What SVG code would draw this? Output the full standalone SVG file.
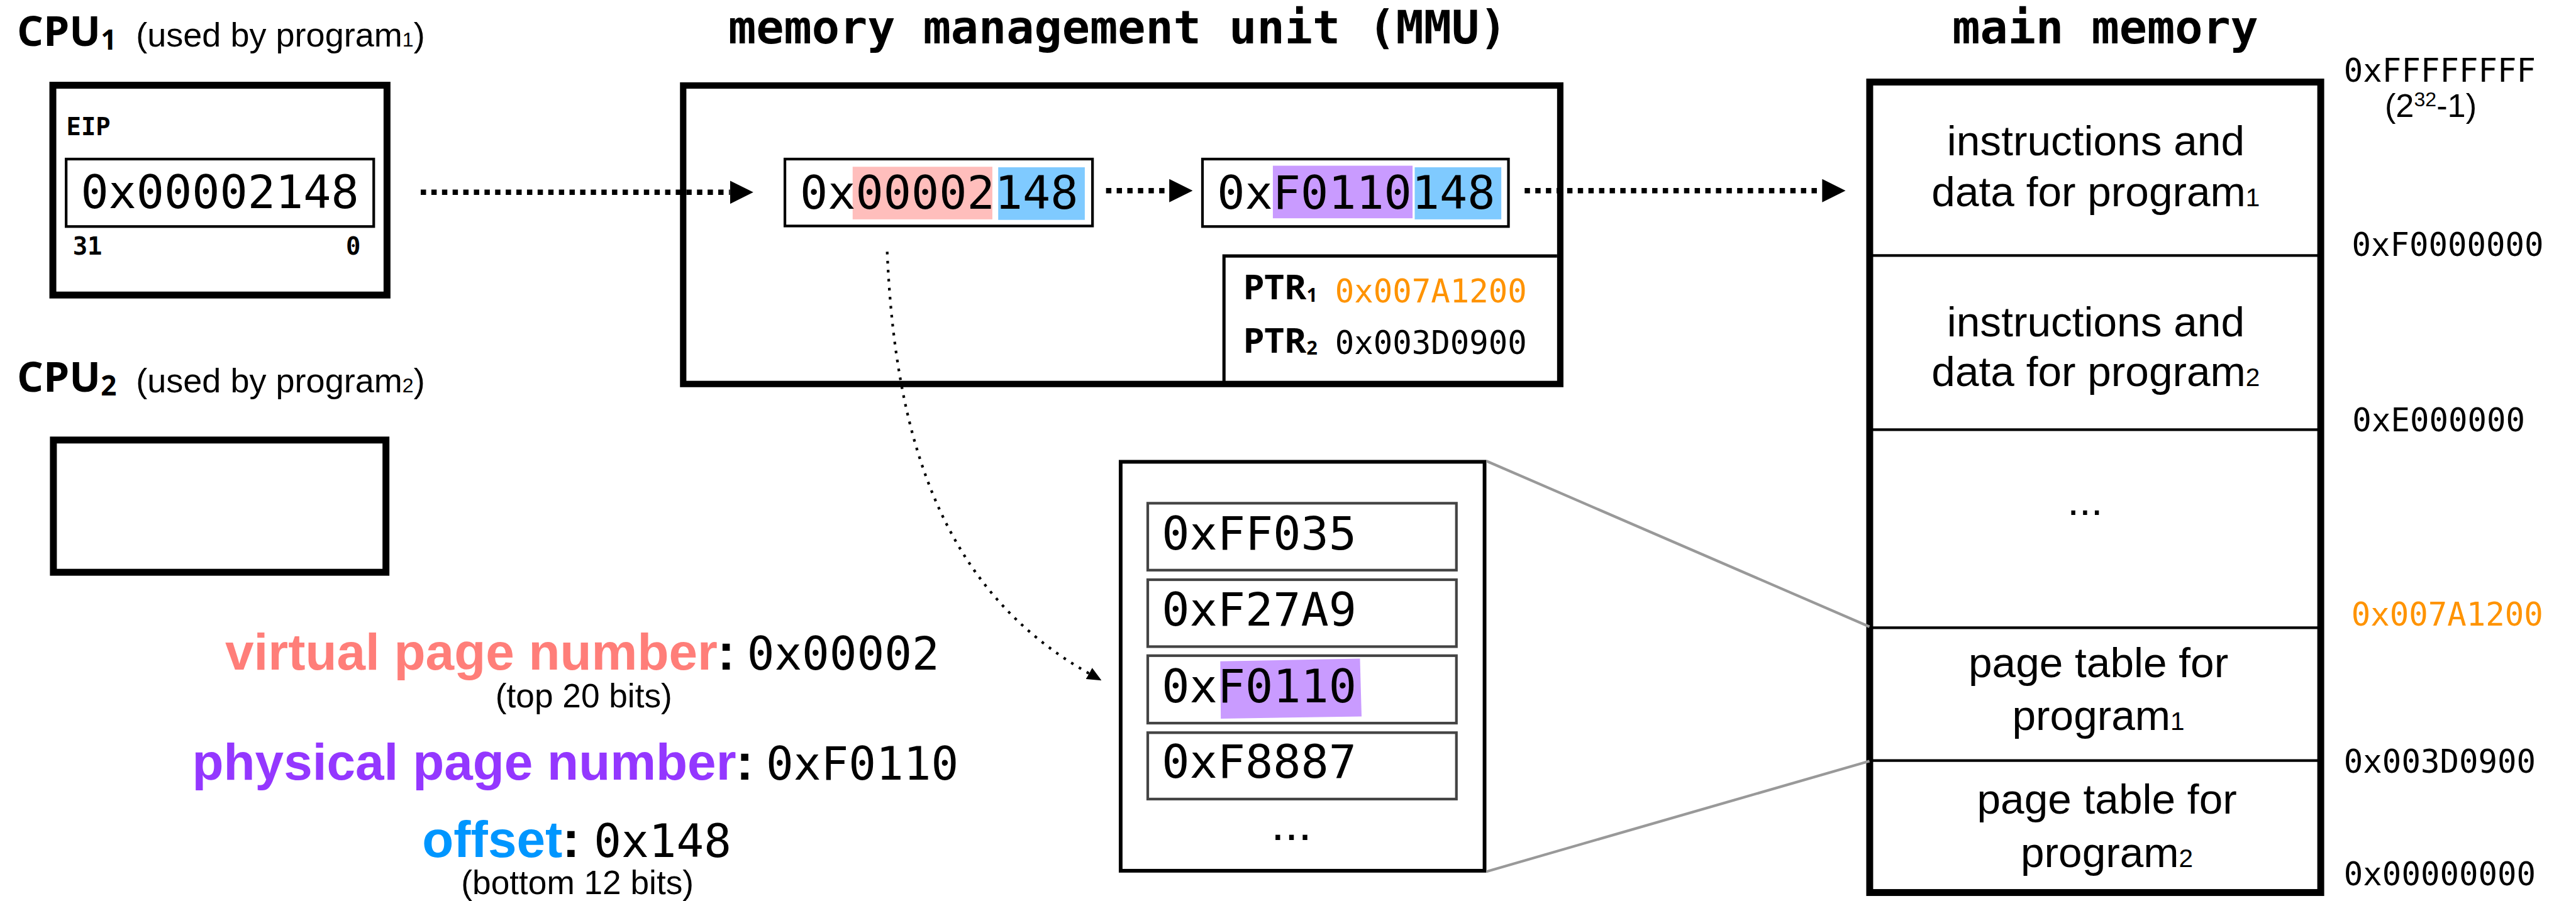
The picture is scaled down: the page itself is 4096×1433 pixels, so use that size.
<svg xmlns="http://www.w3.org/2000/svg" width="4096" height="1433" viewBox="0 0 4096 1433">
  <defs>
    <marker id="head-big" markerUnits="userSpaceOnUse" markerWidth="44" markerHeight="44" refX="0" refY="22" orient="auto">
      <path d="M0,0 L44,22 L0,44 Z" fill="#000"/>
    </marker>
    <marker id="head-small" markerUnits="userSpaceOnUse" markerWidth="27" markerHeight="24" refX="0" refY="12" orient="auto">
      <path d="M0,0 L27,12 L0,24 Z" fill="#000"/>
    </marker>
  </defs>
  <style>
    .mono{font-family:"DejaVu Sans Mono","Liberation Mono",monospace}
    .monob{font-family:"DejaVu Sans Mono","Liberation Mono",monospace;font-weight:bold}
    .sans{font-family:"Liberation Sans",Arial,sans-serif}
    .sansb{font-family:"Liberation Sans",Arial,sans-serif;font-weight:bold}
    .head{font-family:"Open Sans","Liberation Sans",sans-serif;font-weight:bold}
    .heavy{fill:#fff;stroke:#000;stroke-width:13}
    .thin{fill:#fff;stroke:#000;stroke-width:5}
    .entry{fill:#fff;stroke:#444;stroke-width:5}
    .divider{stroke:#000;stroke-width:5}
    .flow{fill:none;stroke:#000;stroke-width:10;stroke-dasharray:10 10;marker-end:url(#head-big)}
    .lookup{fill:none;stroke:#000;stroke-width:5;stroke-dasharray:5 12;marker-end:url(#head-small)}
    .zoomline{stroke:#999;stroke-width:5;fill:none}
    .addr{font-size:87px}
    .side{font-size:60px}
    .mem{font-size:80px;text-anchor:middle}
  </style>
  <rect width="4096" height="1433" fill="#fff"/>
  <g transform="scale(0.84471)">

    <!-- CPU 1 with its EIP register -->
    <g id="cpu1">
      <text class="head" x="32" y="86" font-size="78">CPU<tspan font-size="52" dy="8">1</tspan></text>
      <text class="sans" x="256" y="88" font-size="64">(used by program<tspan font-size="38">1</tspan>)</text>
      <rect class="heavy" x="99.5" y="160.5" width="629" height="395"/>
      <text class="monob" x="125" y="254" font-size="46">EIP</text>
      <rect class="thin" x="124.5" y="299.5" width="579" height="127"/>
      <text class="mono addr" x="152" y="392">0x00002148</text>
      <text class="monob" x="137" y="479" font-size="46">31</text>
      <text class="monob" x="651" y="479" font-size="46">0</text>
    </g>

    <!-- CPU 2 -->
    <g id="cpu2">
      <text class="head" x="32" y="737" font-size="78">CPU<tspan font-size="52" dy="8">2</tspan></text>
      <text class="sans" x="256" y="739" font-size="64">(used by program<tspan font-size="38">2</tspan>)</text>
      <rect class="heavy" x="100.5" y="828.5" width="626" height="249"/>
    </g>

    <!-- MMU: virtual address in, physical address out, page table pointers -->
    <g id="mmu">
      <text class="monob" x="2104" y="82" font-size="87" text-anchor="middle">memory management unit (MMU)</text>
      <rect x="1286" y="161" width="1651" height="562" fill="#fff" stroke="#000" stroke-width="12"/>
      <path d="M2304,723 V482 H2931" fill="none" stroke="#000" stroke-width="6"/>
      <text class="head" x="2340" y="564" font-size="64">PTR<tspan font-size="36" dy="4">1</tspan></text>
      <text class="mono side" x="2513" y="570" fill="#ff9300">0x007A1200</text>
      <text class="head" x="2340" y="664" font-size="64">PTR<tspan font-size="36" dy="4">2</tspan></text>
      <text class="mono side" x="2513" y="667">0x003D0900</text>
    </g>

    <g id="virtual-address">
      <rect class="thin" x="1477.5" y="299.5" width="579" height="126"/>
      <rect x="1605" y="314" width="263" height="99" fill="#ffbebc"/>
      <rect x="1879" y="315" width="163" height="99" fill="#7fcaff"/>
      <text class="mono addr" x="1506" y="393">0x00002148</text>
    </g>

    <g id="physical-address">
      <rect class="thin" x="2263.5" y="299.5" width="576" height="127"/>
      <rect x="2396" y="312" width="263" height="99" fill="#c99bff"/>
      <rect x="2663" y="315" width="163" height="98" fill="#7fcaff"/>
      <text class="mono addr" x="2291" y="393">0xF0110148</text>
    </g>

    <!-- page table of program 1 (enlarged) -->
    <g id="page-table">
      <rect x="2109.5" y="869.5" width="685" height="770" fill="#fff" stroke="#000" stroke-width="7"/>
      <rect class="entry" x="2160.5" y="947.5" width="581" height="126"/>
      <rect class="entry" x="2160.5" y="1091.5" width="581" height="126"/>
      <rect class="entry" x="2160.5" y="1234.5" width="581" height="127"/>
      <rect class="entry" x="2160.5" y="1379.5" width="581" height="125"/>
      <polygon points="2297,1245 2560,1240 2563,1349 2298,1353" fill="#c99bff"/>
      <text class="mono addr" x="2187" y="1035">0xFF035</text>
      <text class="mono addr" x="2187" y="1178">0xF27A9</text>
      <text class="mono addr" x="2187" y="1322">0xF0110</text>
      <text class="mono addr" x="2187" y="1465">0xF8887</text>
      <text class="sans" x="2431" y="1582" font-size="92" text-anchor="middle">...</text>
    </g>

    <!-- physical memory layout -->
    <g id="main-memory">
      <text class="monob" x="3963" y="82" font-size="87" text-anchor="middle">main memory</text>
      <rect class="heavy" x="3519.5" y="154.5" width="849" height="1526" stroke-width="12"/>
      <line class="divider" x1="3519" y1="481" x2="4372" y2="481"/>
      <line class="divider" x1="3519" y1="809" x2="4369" y2="809"/>
      <line class="divider" x1="3519" y1="1182" x2="4369" y2="1182"/>
      <line class="divider" x1="3519" y1="1432" x2="4369" y2="1432"/>
      <text class="sans mem" x="3945" y="293">instructions and</text>
      <text class="sans mem" x="3945" y="388">data for program<tspan font-size="48">1</tspan></text>
      <text class="sans mem" x="3945" y="633">instructions and</text>
      <text class="sans mem" x="3945" y="727">data for program<tspan font-size="48">2</tspan></text>
      <text class="sans mem" x="3925" y="969" font-size="100">...</text>
      <text class="sans mem" x="3950" y="1275">page table for</text>
      <text class="sans mem" x="3950" y="1375">program<tspan font-size="48">1</tspan></text>
      <text class="sans mem" x="3966" y="1532">page table for</text>
      <text class="sans mem" x="3966" y="1632">program<tspan font-size="48">2</tspan></text>
    </g>

    <!-- address marks beside the memory -->
    <g id="addresses">
      <text class="mono side" x="4412" y="154">0xFFFFFFFF</text>
      <text class="sans" x="4489" y="220" font-size="62">(2<tspan font-size="38" dy="-20">32</tspan><tspan dy="20">-1)</tspan></text>
      <text class="mono side" x="4427" y="482">0xF0000000</text>
      <text class="mono side" x="4428" y="812">0xE000000</text>
      <text class="mono side" x="4426" y="1178" fill="#ff9300">0x007A1200</text>
      <text class="mono side" x="4412" y="1455">0x003D0900</text>
      <text class="mono side" x="4412" y="1667">0x00000000</text>
    </g>

    <!-- legend for the address split -->
    <g id="legend">
      <text class="sansb" x="1383" y="1261" font-size="97" text-anchor="end"><tspan fill="#ff7e79">virtual page number</tspan>:</text>
      <text class="mono" x="1406" y="1261" font-size="86">0x00002</text>
      <text class="sans" x="1099" y="1332" font-size="63" text-anchor="middle">(top 20 bits)</text>
      <text class="sansb" x="1418" y="1468" font-size="97" text-anchor="end"><tspan fill="#9437ff">physical page number</tspan>:</text>
      <text class="mono" x="1442" y="1468" font-size="86">0xF0110</text>
      <text class="sansb" x="1091" y="1613" font-size="97" text-anchor="end"><tspan fill="#0096ff">offset</tspan>:</text>
      <text class="mono" x="1118" y="1613" font-size="86">0x148</text>
      <text class="sans" x="1087" y="1684" font-size="63" text-anchor="middle">(bottom 12 bits)</text>
    </g>

    <!-- connectors -->
    <g id="connectors">
      <line class="flow" x1="792" y1="362" x2="1374" y2="362"/>
      <line class="flow" x1="2082" y1="359" x2="2201" y2="359"/>
      <line class="flow" x1="2870" y1="359" x2="3430" y2="359"/>
      <path class="lookup" d="M1670,474 C1685,820 1770,1110 2050,1268"/>
      <line class="zoomline" x1="2798" y1="868" x2="3519" y2="1180"/>
      <line class="zoomline" x1="2798" y1="1641" x2="3519" y2="1433"/>
    </g>
  </g>
</svg>
